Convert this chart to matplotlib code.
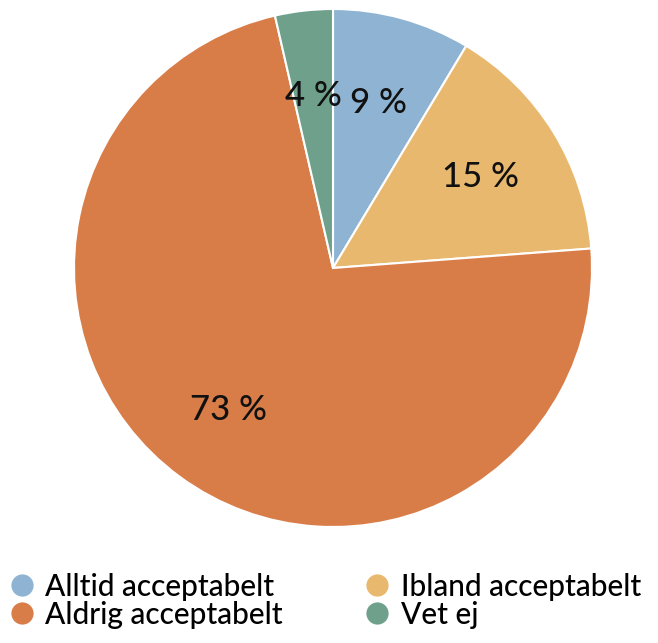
import matplotlib
matplotlib.use("Agg")
import matplotlib.pyplot as plt
from matplotlib.lines import Line2D
import numpy as np

categories = ["Alltid acceptabelt", "Ibland acceptabelt", "Aldrig acceptabelt", "Vet ej"]
values = [8.6, 15.2, 72.6, 3.6]
labels = ["9 %", "15 %", "73 %", "4 %"]
colors = ["#8fb4d3", "#e8b86e", "#d97d48", "#6ea08c"]

plt.rcParams['font.family'] = ['Lato', 'DejaVu Sans']

fig = plt.figure(figsize=(6.58, 6.43), dpi=100)
ax = fig.add_axes([74/658, 1 - 527/643, 518/658, 518/643])
wedges, _ = ax.pie(values, colors=colors, startangle=90, counterclock=False,
                   radius=1, wedgeprops=dict(edgecolor="white", linewidth=1.5))
tot = sum(values)
cum = 0
label_r = [0.66, 0.67, 0.68, 0.67]
for v, lab, r in zip(values, labels, label_r):
    mid = 90 - (cum + v / 2) / tot * 360
    cum += v
    ax.text(r * np.cos(np.radians(mid)), r * np.sin(np.radians(mid)), lab,
            ha="center", va="center", fontsize=25, color="#111111",
            fontweight="medium")
ax.set_xlim(-1, 1)
ax.set_ylim(-1, 1)
ax.set_aspect("equal")
ax.axis("off")

order = [0, 2, 1, 3]
handles = [Line2D([], [], marker="o", linestyle="none", markersize=16,
                  markerfacecolor=colors[i], markeredgecolor="none") for i in order]
fig.legend(handles, [categories[i] for i in order], ncol=2, frameon=False,
           loc="upper left", bbox_to_anchor=(-0.008, 1 - 561/643),
           handletextpad=0.3, columnspacing=2.65,
           labelspacing=0.0, handlelength=1.0, borderaxespad=0,
           prop=dict(size=21.5, weight="medium"))
fig.savefig("out.png", dpi=100, facecolor="white")
